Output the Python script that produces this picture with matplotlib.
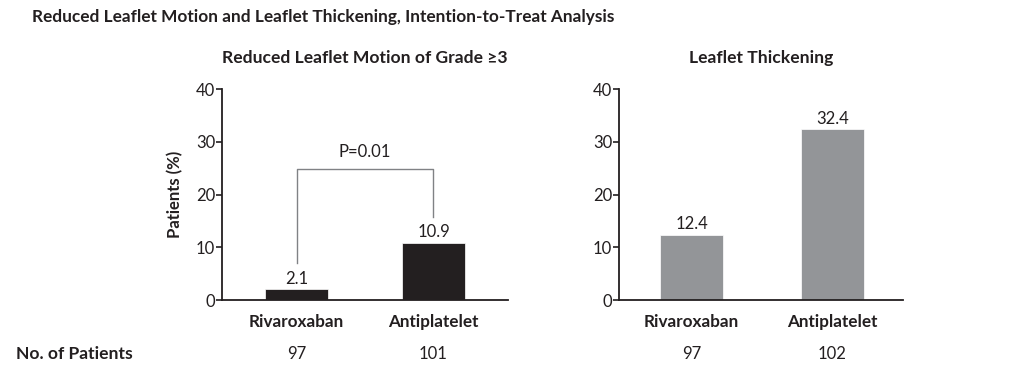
import matplotlib.pyplot as plt
import numpy as np

plt.rcParams['font.family'] = ['Lato', 'DejaVu Sans']

# data
groups = ['Rivaroxaban', 'Antiplatelet']
motion_pct = [2.1, 10.9]
thick_pct = [12.4, 32.4]
motion_n = [97, 101]
thick_n = [97, 102]
p_text = 'P=0.01'

ink = '#231f20'
dark_bar = '#231f20'
gray_bar = '#939598'

fig = plt.figure(figsize=(10.24, 3.78), dpi=100)
ax1 = fig.add_axes([0.2168, 0.2063, 0.2793, 0.5582])
ax2 = fig.add_axes([0.6045, 0.2063, 0.2773, 0.5582])

x = np.arange(len(groups))


def style_axis(ax, xlim):
    ax.set_ylim(0, 40)
    ax.set_xlim(*xlim)
    ax.set_yticks([0, 10, 20, 30, 40])
    ax.set_xticks(x)
    ax.set_xticklabels(groups, fontsize=12.3, fontweight='bold', color=ink)
    for s in ['top', 'right']:
        ax.spines[s].set_visible(False)
    for s in ['left', 'bottom']:
        ax.spines[s].set_linewidth(1.3)
        ax.spines[s].set_color(ink)
    ax.tick_params(axis='y', direction='out', length=4, width=1.2, color=ink,
                   labelsize=12, labelcolor=ink, pad=1)
    ax.tick_params(axis='x', length=0, pad=10)


# left panel
ax1.bar(x, motion_pct, width=0.46, color=dark_bar, edgecolor='white', linewidth=0.5)
style_axis(ax1, (-0.544, 1.544))
for xi, v in zip(x, motion_pct):
    ax1.text(xi, v + 0.4, f'{v}', ha='center', va='bottom', fontsize=12, color=ink)
ax1.set_ylabel('Patients (%)', fontsize=12, fontweight='bold', color=ink, labelpad=9)
ax1.set_title('Reduced Leaflet Motion of Grade \u22653', fontsize=12.6, fontweight='bold',
              color=ink, pad=19)

# significance bracket
ax1.plot([x[0], x[0], x[1], x[1]], [7.0, 24.8, 24.8, 15.7], color='#808285', lw=1.0)
ax1.text((x[0] + x[1]) / 2, 26.6, p_text, ha='center', va='bottom', fontsize=12, color=ink)

# right panel
ax2.bar(x, thick_pct, width=0.45, color=gray_bar, edgecolor='white', linewidth=0.5)
style_axis(ax2, (-0.514, 1.5))
for xi, v in zip(x, thick_pct):
    ax2.text(xi, v + 0.4, f'{v}', ha='center', va='bottom', fontsize=12, color=ink)
ax2.set_title('Leaflet Thickening', fontsize=12.6, fontweight='bold', color=ink, pad=19)

# patient counts
fig.text(16 / 1024, 1 - 354 / 378, 'No. of Patients', fontsize=12.6, fontweight='bold',
         color=ink, va='center', ha='left')
for ax, counts in [(ax1, motion_n), (ax2, thick_n)]:
    for xi, n in zip(x, counts):
        xd = ax.transData.transform((xi, 0))[0]
        fig.text(xd / 1024, 1 - 354 / 378, str(n), fontsize=12, color=ink,
                 ha='center', va='center')

fig.text(32 / 1024, 1 - 17 / 378,
         'Reduced Leaflet Motion and Leaflet Thickening, Intention-to-Treat Analysis',
         fontsize=12.4, fontweight='bold', color=ink, va='center', ha='left')

fig.savefig('out.png', dpi=100, facecolor='white')
